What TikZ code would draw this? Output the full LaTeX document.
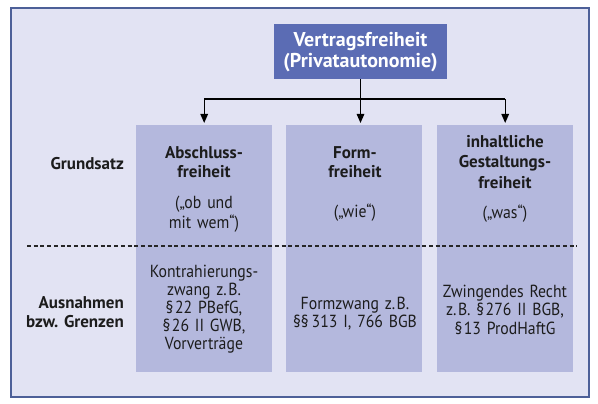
\documentclass[tikz,border=0pt]{standalone}
\usepackage{fontspec}
\setmainfont{PT Sans}[FakeStretch=0.9]
\newfontfamily\widefont{PT Sans}
\usetikzlibrary{arrows.meta}
\definecolor{framec}{HTML}{4D6098}
\definecolor{bgc}{HTML}{E2E3F3}
\definecolor{colc}{HTML}{B4B8DD}
\definecolor{topc}{HTML}{5B6CB4}
\definecolor{txtc}{HTML}{1C1C1C}
\newcommand{\sgap}{\kern1.5pt}
\newcommand{\hd}[1]{{\widefont\fontsize{17}{20}\selectfont\bfseries #1}}
\tikzset{
  colbox/.style={fill=colc, draw=none, minimum width=136, minimum height=247, anchor=north west, inner sep=0},
  topbox/.style={fill=topc, draw=none, minimum width=172.5, minimum height=55, inner sep=0},
  uptext/.style={text=txtc, align=center, text width=136, inner sep=0, anchor=base, font=\fontsize{17.5}{20}\selectfont},
  lowtext/.style={text=txtc, align=center, text width=136, inner sep=0, anchor=base, font=\fontsize{17.5}{18.5}\selectfont},
  labtext/.style={text=txtc, align=right, text width=110, inner sep=0, anchor=base east, font=\widefont\fontsize{17}{19}\selectfont\bfseries},
  conn/.style={line width=1.3pt, black},
  arr/.style={conn, -{Triangle[length=9pt,width=7.5pt]}, shorten >=2pt},
  sep/.style={line width=1.1pt, color=black!85, dash pattern=on 4pt off 2.7pt}
}
\begin{document}
\frenchspacing
\begin{tikzpicture}[x=1pt,y=-1pt]
\useasboundingbox (0,0) rectangle (598,404);
\fill[white] (0,0) rectangle (598,404);
\draw[draw=framec, fill=bgc, line width=2.5pt] (11,8) rectangle (589,397);

\node[topbox] (top) at (360.5,51.5) {};
\node[text=white, align=center, text width=172, inner sep=0, anchor=base, font=\widefont\fontsize{20}{20.5}\selectfont\bfseries] (toptxt) at (360.5,47) {Vertragsfreiheit\\(Privatautonomie)};

\node[colbox] (c1) at (136,125) {};
\node[colbox] (c2) at (286,125) {};
\node[colbox] (c3) at (437,125) {};

\coordinate (j) at (360.5,99);
\draw[conn] (top.south) -- (j);
\draw[conn] (j -| c1.north) -- (j -| c3.north);
\draw[arr] (j -| c1.north) -- (c1.north);
\draw[arr] (j) -- (j |- c2.north);
\draw[arr] (j -| c3.north) -- (c3.north);

\coordinate (dl) at (27,246);
\coordinate (dr) at (577,246);
\draw[sep] (dl) -- (dr);

\node[labtext] (lg) at (124,169) {Grundsatz};
\node[labtext] (la) at (124,308) {Ausnahmen\\bzw. Grenzen};

\node[uptext] (u1) at (204,158) {\hd{Abschluss-}\\\hd{freiheit}\\[11pt](„ob und\\mit wem“)};
\node[uptext] (u2) at (355,158) {\hd{Form-}\\\hd{freiheit}\\[20pt](„wie“)};
\node[uptext] (u3) at (505,148) {\hd{inhaltliche}\\\hd{Gestaltungs-}\\\hd{freiheit}\\[11pt](„was“)};

\node[lowtext, font=\fontsize{17.5}{18}\selectfont] (l1) at (204,277) {Kontrahierungs-\\zwang z.\sgap B.\\§\sgap 22 PBefG,\\§\sgap 26 II GWB,\\Vorverträge};
\node[lowtext] (l2) at (355,309) {Formzwang z.\sgap B.\\§§\kern3pt 313 I, 766 BGB};
\node[lowtext] (l3) at (505,297) {Zwingendes Recht\\z.\sgap B. §\sgap 276 II BGB,\\§\sgap 13 ProdHaftG};
\end{tikzpicture}
\end{document}
